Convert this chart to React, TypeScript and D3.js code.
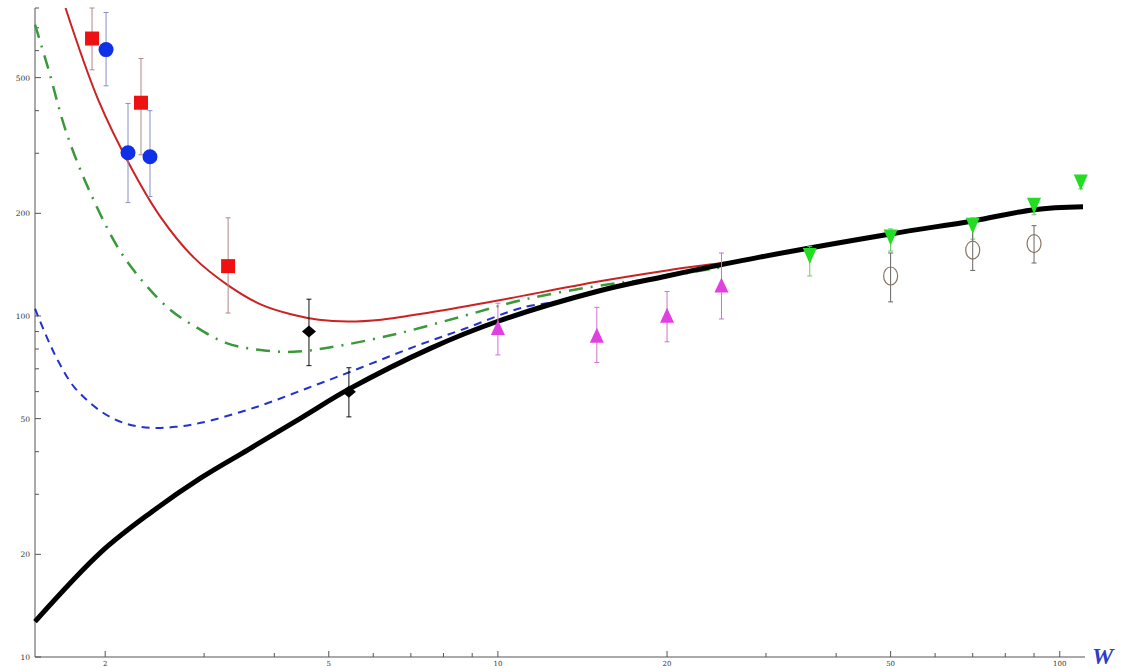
import React from 'react';
import * as d3 from 'd3';

const X_MAJOR = [2, 5, 10, 20, 50, 100];
const X_MINOR = [3, 4, 6, 7, 8, 9, 30, 40, 60, 70, 80, 90];
const Y_MAJOR = [10, 20, 50, 100, 200, 500];
const Y_MINOR = [30, 40, 60, 70, 80, 90, 300, 400, 600, 700, 800];

// theory curves
const blackW = [1.5, 1.966, 2.41, 2.96, 3.59, 4.46, 5.43, 7.6, 10, 15, 20, 29.4, 50, 70, 90, 110];
const blackV = [12.7, 20.3, 26.5, 33.5, 40.5, 50.2, 61, 80.5, 96.5, 118, 131, 149, 174, 190, 205, 209];

const redW = [1.7, 1.943, 2.22, 2.51, 2.88, 3.31, 3.79, 4.3, 4.8, 5.4, 6.2, 7.6, 10, 15, 20, 25, 30];
const redV = [800, 431, 274, 195, 148, 123, 108, 101, 97.5, 96.3, 97.5, 102.5, 111, 126, 136, 143, 149];

const greenW = [1.5, 1.582, 1.706, 1.895, 2.16, 2.58, 2.88, 3.28, 3.75, 4.32, 4.98, 6.53, 8.59, 11.1, 14.8, 18.7, 25];
const greenV = [715, 535, 345, 224, 149, 106, 93.5, 83.4, 79.6, 78.5, 80.7, 88.2, 99.5, 111.6, 122, 128.5, 139];

const blueW = [1.5, 1.582, 1.655, 1.76, 1.966, 2.18, 2.41, 2.67, 2.96, 3.68, 4.59, 5.7, 7.09, 8.7, 11.1, 12.9];
const blueV = [105, 85.1, 73, 62, 52.5, 48.3, 47, 47.3, 48.6, 53.8, 61.5, 70.5, 81.2, 91.6, 106, 110];

// data points
const sqW = [1.895, 2.316, 3.31];
const sqV = [651, 422, 140];
const sqLo = [527, 297, 102];
const sqHi = [800, 569, 194];

const circW = [2.007, 2.196, 2.403];
const circV = [604, 301, 293];
const circLo = [473, 215, 224];
const circHi = [776, 420, 400];

const diaW = [4.61, 5.43];
const diaV = [90, 60];
const diaLo = [71.5, 50.6];
const diaHi = [112, 70.5];

const triW = [10, 15, 20, 25];
const triV = [91.6, 86.9, 99.5, 122];
const triLo = [76.9, 73, 84, 98];
const triHi = [109, 106, 118, 153];

const invW = [35.9, 50, 70, 90, 109];
const invV = [151, 171, 185, 212, 248];
const invLo = [131, 155, 168, 198, 236];
const invHi = [160, 180, 194, 220, 256];

const openW = [50, 70, 90];
const openV = [131, 156, 163];
const openLo = [110, 136, 143];
const openHi = [153, 185, 184];

const WIDTH = 1122;
const HEIGHT = 668;

export default function App() {
  const x = d3.scaleLog().domain([1.5, 110]).range([35, 1083]);
  const y = d3.scaleLog().domain([10, 800]).range([657, 8]);

  const line = d3
    .line<[number, number]>()
    .x((d) => x(d[0]))
    .y((d) => y(d[1]))
    .curve(d3.curveCatmullRom.alpha(0.5));

  const zip = (a: number[], b: number[]) => a.map((v, i) => [v, b[i]] as [number, number]);

  const errBars = (ws: number[], lo: number[], hi: number[], color: string, key: string, w = 1) =>
    ws.map((wv, i) => (
      <g key={key + i} stroke={color} strokeWidth={w}>
        <line x1={x(wv)} x2={x(wv)} y1={y(lo[i])} y2={y(hi[i])} />
        <line x1={x(wv) - 2.5} x2={x(wv) + 2.5} y1={y(lo[i])} y2={y(lo[i])} />
        <line x1={x(wv) - 2.5} x2={x(wv) + 2.5} y1={y(hi[i])} y2={y(hi[i])} />
      </g>
    ));

  const axisColor = '#555';
  const labelFont = 'DejaVu Serif, Liberation Serif, serif';

  return (
    <svg
      width={WIDTH}
      height={HEIGHT}
      style={{ position: 'absolute', left: 0, top: 0, background: '#fff' }}
    >
      {/* axes */}
      <line x1={35} x2={35} y1={8} y2={657} stroke={axisColor} strokeWidth={1} />
      <line x1={35} x2={1085} y1={657} y2={657} stroke={axisColor} strokeWidth={1} />
      {Y_MAJOR.map((v) => (
        <g key={'ym' + v}>
          <line x1={35} x2={41} y1={y(v)} y2={y(v)} stroke={axisColor} />
          <text
            x={30}
            y={y(v) + 3}
            textAnchor="end"
            fontSize={7.5}
            fontFamily={labelFont}
            fill="#333"
          >
            {v}
          </text>
        </g>
      ))}
      {Y_MINOR.map((v) => (
        <line key={'yn' + v} x1={35} x2={39} y1={y(v)} y2={y(v)} stroke={axisColor} />
      ))}
      {X_MAJOR.map((v) => (
        <g key={'xm' + v}>
          <line x1={x(v)} x2={x(v)} y1={657} y2={651} stroke={axisColor} />
          <text
            x={x(v)}
            y={666}
            textAnchor="middle"
            fontSize={7}
            fontFamily={labelFont}
            fill="#333"
          >
            {v}
          </text>
        </g>
      ))}
      {X_MINOR.map((v) => (
        <line key={'xn' + v} x1={x(v)} x2={x(v)} y1={657} y2={653} stroke={axisColor} />
      ))}
      <text
        x={1092}
        y={664}
        fontSize={24}
        fontStyle="italic"
        fontFamily="Liberation Serif, serif"
        fill="#2a3cc8"
        fontWeight="bold"
      >
        W
      </text>

      {/* curves */}
      <path d={line(zip(blueW, blueV)) || ''} fill="none" stroke="#2233cc" strokeWidth={2} strokeDasharray="8,6" />
      <path
        d={line(zip(greenW, greenV)) || ''}
        fill="none"
        stroke="#3a9a3a"
        strokeWidth={2.5}
        strokeDasharray="14,8,2,8"
      />
      <path d={line(zip(redW, redV)) || ''} fill="none" stroke="#cc2222" strokeWidth={2} />
      <path d={line(zip(blackW, blackV)) || ''} fill="none" stroke="#000" strokeWidth={5} />

      {/* error bars */}
      {errBars(sqW, sqLo, sqHi, '#b08888', 'es')}
      {errBars(circW, circLo, circHi, '#8890c0', 'ec')}
      {errBars(diaW, diaLo, diaHi, '#111', 'ed')}
      {errBars(triW, triLo, triHi, '#d070d0', 'et')}
      {errBars(invW, invLo, invHi, '#66cc66', 'ei')}
      {errBars(openW, openLo, openHi, '#666', 'eo')}

      {/* markers */}
      {sqW.map((wv, i) => (
        <rect key={'s' + i} x={x(wv) - 7} y={y(sqV[i]) - 7} width={14} height={14} fill="#ee1111" />
      ))}
      {circW.map((wv, i) => (
        <circle key={'c' + i} cx={x(wv)} cy={y(circV[i])} r={7.5} fill="#1030e8" />
      ))}
      {diaW.map((wv, i) => {
        const cx = x(wv);
        const cy = y(diaV[i]);
        return (
          <path
            key={'d' + i}
            d={`M${cx - 7},${cy} L${cx},${cy - 6} L${cx + 7},${cy} L${cx},${cy + 6} Z`}
            fill="#000"
          />
        );
      })}
      {triW.map((wv, i) => {
        const cx = x(wv);
        const cy = y(triV[i]);
        return (
          <path
            key={'t' + i}
            d={`M${cx - 7},${cy + 6} L${cx + 7},${cy + 6} L${cx},${cy - 9} Z`}
            fill="#e040e0"
          />
        );
      })}
      {invW.map((wv, i) => {
        const cx = x(wv);
        const cy = y(invV[i]);
        return (
          <path
            key={'v' + i}
            d={`M${cx - 7},${cy - 7} L${cx + 7},${cy - 7} L${cx},${cy + 9} Z`}
            fill="#22dd22"
          />
        );
      })}
      {openW.map((wv, i) => (
        <ellipse
          key={'o' + i}
          cx={x(wv)}
          cy={y(openV[i])}
          rx={7}
          ry={9}
          fill="none"
          stroke="#8a7560"
          strokeWidth={1.2}
        />
      ))}
    </svg>
  );
}
